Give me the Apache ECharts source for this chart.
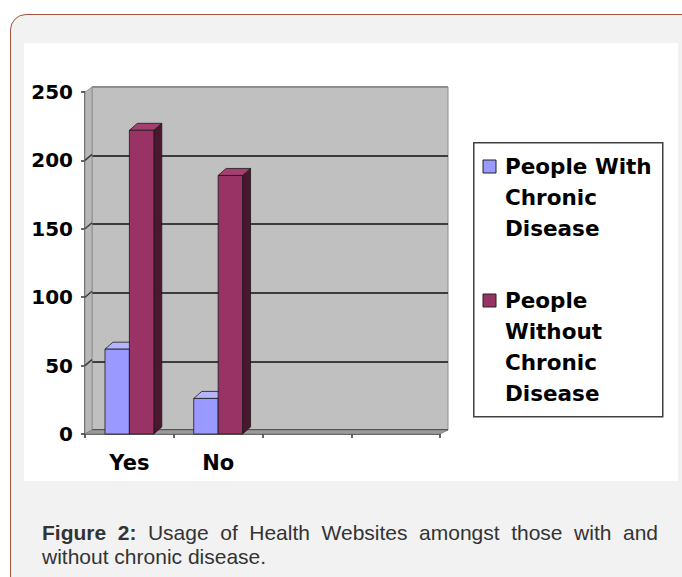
<!DOCTYPE html>
<html>
<head>
<meta charset="utf-8">
<script src="https://cdn.jsdelivr.net/npm/echarts@6/dist/echarts.min.js"></script>
<style>
  html, body { margin: 0; padding: 0; background: #ffffff; }
  #wrap { position: relative; width: 682px; height: 577px; overflow: hidden; background: #ffffff; }
  #frame { position: absolute; left: 10px; top: 14px; width: 700px; height: 610px;
           border: 1.5px solid #a4533f; border-radius: 16px; background: #f2f2f2; box-sizing: border-box; }
  #inner { position: absolute; left: 24px; top: 43px; width: 654px; height: 438px; background: #ffffff; }
  #chart { position: absolute; left: 0; top: 0; width: 682px; height: 577px; }
  #caption { position: absolute; left: 42px; top: 521px; width: 616px; font-family: "Liberation Sans", Arial, sans-serif;
             font-size: 21px; line-height: 24px; color: #333333; }
  #caption .l1 { text-align: justify; text-align-last: justify; white-space: nowrap; }
  #caption .fig { font-weight: bold; }
</style>
</head>
<body>
<div id="wrap">
  <div id="frame"></div>
  <div id="inner"></div>
  <div id="chart"></div>
  <div id="caption">
    <div class="l1"><span class="fig">Figure 2:</span> <span>Usage of Health Websites amongst those with and</span></div>
    <div class="l2">without chronic disease.</div>
  </div>
</div>
<script>
// ---- data ----
const categories = ['Yes', 'No', '', ''];
const seriesNames = ['People With\nChronic\nDisease', 'People\nWithout\nChronic\nDisease'];
const withChronic = [62, 26];
const withoutChronic = [222, 189];
const yMin = 0, yMax = 250, yStep = 50;
const yTicks = [0, 50, 100, 150, 200, 250];

// ---- styles ----
const FONT = 'DejaVu Sans';
const colors = [
  { front: '#9999ff', top: '#b4b4ff', side: '#5c5cb0' },
  { front: '#993366', top: '#a4406f', side: '#4a1630' }
];
const DX = 8, DY = -7;

const chart = echarts.init(document.getElementById('chart'), null, { renderer: 'svg' });

function barRender(sIdx) {
  return function (params, api) {
    const cat = api.value(0), v = api.value(1);
    const p = api.coord([cat, v]);
    const b = api.coord([cat, 0]);
    const bw = api.size([1, 0])[0] * 0.275;
    const x0 = sIdx === 0 ? p[0] - bw : p[0];
    const x1 = x0 + bw;
    const c = colors[sIdx];
    const ls = { stroke: '#1a1a1a', lineWidth: 0.8 };
    return {
      type: 'group',
      children: [
        { type: 'polygon', shape: { points: [[x1, p[1]], [x1 + DX, p[1] + DY], [x1 + DX, b[1] + DY], [x1, b[1]]] },
          style: Object.assign({ fill: c.side }, ls) },
        { type: 'polygon', shape: { points: [[x0, p[1]], [x0 + DX, p[1] + DY], [x1 + DX, p[1] + DY], [x1, p[1]]] },
          style: Object.assign({ fill: c.top }, ls) },
        { type: 'rect', shape: { x: x0, y: p[1], width: bw, height: b[1] - p[1] },
          style: Object.assign({ fill: c.front }, ls) }
      ]
    };
  };
}

function wallRender(params, api) {
  const cs = params.coordSys;
  const L = cs.x, T = cs.y, B = cs.y + cs.height, R = cs.x + cs.width;
  const children = [
    { type: 'polygon', shape: { points: [[L, B], [L, T], [L + 7, T - 5], [L + 7, B - 4]] },
      style: { fill: '#b8b8b8', stroke: '#8c8c8c', lineWidth: 0.8 } },
    { type: 'polygon', shape: { points: [[L, B], [L + 7, B - 4], [R + 8, B - 4], [R, B]] },
      style: { fill: '#9a9a9a', stroke: '#777777', lineWidth: 0.8 } }
  ];
  yTicks.forEach(function (t) {
    if (t === yMin || t === yMax) return;
    const y = api.coord([0, t])[1];
    children.push({ type: 'line', shape: { x1: L, y1: y, x2: L + 7, y2: y - 6 },
      style: { stroke: '#3c3c3c', lineWidth: 1.5 } });
  });
  return { type: 'group', children: children };
}

const legendX = 473, legendY = 142;
const legendGraphics = [
  { type: 'rect', left: legendX, top: legendY, shape: { width: 189, height: 274 },
    style: { fill: '#ffffff', stroke: '#404040', lineWidth: 1.5 }, z: 10 }
];
const legendTops = [151, 285];
seriesNames.forEach(function (n, i) {
  legendGraphics.push({ type: 'rect', position: [483, legendTops[i] + 9], shape: { width: 13, height: 13 },
    style: { fill: colors[i].front, stroke: '#222222', lineWidth: 1 }, z: 11 });
  legendGraphics.push({ type: 'text', position: [505, legendTops[i]], z: 11,
    style: { text: n, fill: '#000000', font: 'bold 21.5px "' + FONT + '"', lineHeight: 31,
             textVerticalAlign: 'top', verticalAlign: 'top', textAlign: 'left' } });
});

const option = {
  animation: false,
  backgroundColor: 'transparent',
  grid: [
    { left: 92, top: 87, width: 356, height: 343, show: true, backgroundColor: '#c0c0c0',
      borderColor: '#8e8e8e', borderWidth: 1 },
    { left: 85, top: 92, width: 355, height: 342 }
  ],
  xAxis: [
    { gridIndex: 0, type: 'category', data: categories, show: false },
    { gridIndex: 1, type: 'category', data: categories,
      axisLine: { lineStyle: { color: '#333333', width: 1.5 } },
      axisTick: { show: true, length: 4, lineStyle: { color: '#333333', width: 1.5 } },
      axisLabel: { margin: 18, color: '#000000', fontFamily: FONT, fontWeight: 'bold', fontSize: 21 } }
  ],
  yAxis: [
    { gridIndex: 0, type: 'value', min: yMin, max: yMax, interval: yStep,
      axisLine: { show: false }, axisTick: { show: false }, axisLabel: { show: false },
      splitLine: { show: true, lineStyle: { color: ['#3c3c3c', '#3c3c3c', '#3c3c3c', '#3c3c3c', '#3c3c3c', '#8e8e8e'], width: 1.8 } } },
    { gridIndex: 1, type: 'value', min: yMin, max: yMax, interval: yStep,
      axisLine: { show: true, lineStyle: { color: '#333333', width: 1.5 } },
      axisTick: { show: true, length: 4, lineStyle: { color: '#333333', width: 1.5 } },
      splitLine: { show: false },
      axisLabel: { margin: 12, color: '#000000', fontFamily: FONT, fontWeight: 'bold', fontSize: 20 } }
  ],
  graphic: legendGraphics,
  series: [
    { type: 'custom', name: 'wall', xAxisIndex: 1, yAxisIndex: 1, data: [[0, 0]], renderItem: wallRender, clip: false, z: 1, silent: true },
    { type: 'custom', name: seriesNames[0], xAxisIndex: 1, yAxisIndex: 1, clip: false, z: 3,
      data: withChronic.map(function (v, i) { return [i, v]; }), renderItem: barRender(0) },
    { type: 'custom', name: seriesNames[1], xAxisIndex: 1, yAxisIndex: 1, clip: false, z: 4,
      data: withoutChronic.map(function (v, i) { return [i, v]; }), renderItem: barRender(1) }
  ]
};
chart.setOption(option);
</script>
</body>
</html>
